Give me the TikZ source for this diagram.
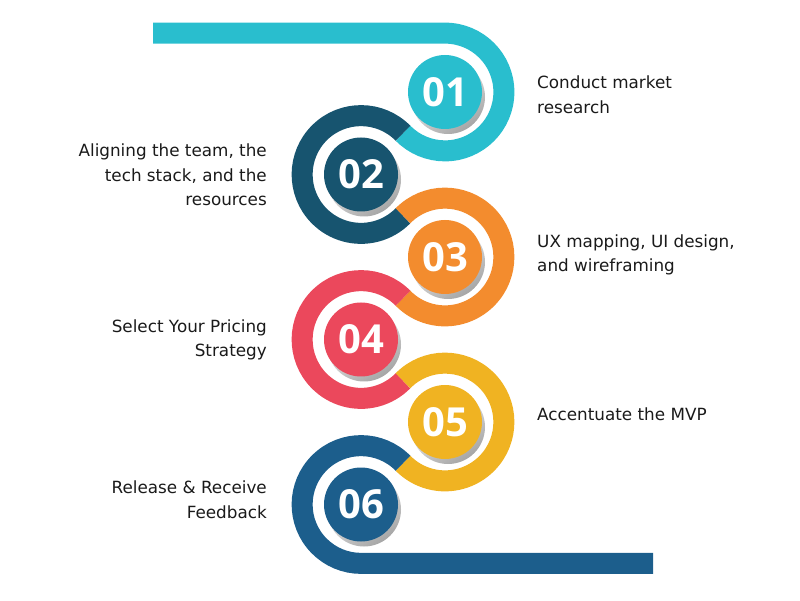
\documentclass[tikz,border=0pt]{standalone}
\usepackage{fontspec}
\usetikzlibrary{calc}
\setmainfont{DejaVu Sans}
\newfontfamily\numfont{Open Sans}
\definecolor{cA}{RGB}{41,190,206}
\definecolor{cB}{RGB}{23,84,111}
\definecolor{cC}{RGB}{243,140,46}
\definecolor{cD}{RGB}{235,72,92}
\definecolor{cE}{RGB}{240,179,34}
\definecolor{cF}{RGB}{28,94,140}
\definecolor{txt}{RGB}{26,26,26}
\begin{document}
\begin{tikzpicture}[x=1pt,y=1pt,
  ringline/.style={line width=21pt, line cap=butt},
  disk/.style={circle, minimum size=74pt, inner sep=0pt, text=white,
    font=\numfont\bfseries\fontsize{40}{40}\selectfont},
  shadowdisk/.style={top color=white, bottom color=black!35, shading angle=35},
  lbl/.style={font=\fontsize{16.8}{24.5}\selectfont, text=txt, inner sep=0pt}]
\useasboundingbox (0,0) rectangle (800,600);
\def\R{58.87}
\coordinate (C1) at (445,508);
\coordinate (C2) at (361,425.5);
\coordinate (C3) at (445,343);
\coordinate (C4) at (361,260.5);
\coordinate (C5) at (445,178);
\coordinate (C6) at (361,95.5);
\coordinate (topL) at (153,566.87);
\coordinate (botR) at (653,36.63);
% rings
\draw[ringline, cA] (topL) -- ($(C1)+(90:\R)$) arc[start angle=90, end angle=-135.52, radius=\R];
\draw[ringline, cB] ($(C2)+(44.48:\R)$) arc[start angle=44.48, end angle=315.52, radius=\R];
\draw[ringline, cC] ($(C3)+(135.52:\R)$) arc[start angle=135.52, end angle=-135.52, radius=\R];
\draw[ringline, cD] ($(C4)+(44.48:\R)$) arc[start angle=44.48, end angle=315.52, radius=\R];
\draw[ringline, cE] ($(C5)+(135.52:\R)$) arc[start angle=135.52, end angle=-135.52, radius=\R];
\draw[ringline, cF] ($(C6)+(44.48:\R)$) arc[start angle=44.48, end angle=270, radius=\R] -- (botR);
% shadows
\foreach \c in {C1,C2,C3,C4,C5,C6}{
  \shade[shadowdisk] ($(\c)+(3,-5)$) circle[radius=37];
}
% disks
\node[disk, fill=cA] (n1) at (C1) {01};
\node[disk, fill=cB] (n2) at (C2) {02};
\node[disk, fill=cC] (n3) at (C3) {03};
\node[disk, fill=cD] (n4) at (C4) {04};
\node[disk, fill=cE] (n5) at (C5) {05};
\node[disk, fill=cF] (n6) at (C6) {06};
% labels (base anchor = baseline of the last line)
\node[lbl, anchor=base west, align=left] (t1) at (537,486.7) {Conduct market\\research};
\node[lbl, anchor=base east, align=right] (t2) at (267,394.3) {Aligning the team, the\\tech stack, and the\\resources};
\node[lbl, anchor=base west, align=left] (t3) at (537,328.3) {UX mapping, UI design,\\and wireframing};
\node[lbl, anchor=base east, align=right] (t4) at (267,243.3) {Select Your Pricing\\Strategy};
\node[lbl, anchor=base west, align=left] (t5) at (537,179.3) {Accentuate the MVP};
\node[lbl, anchor=base east, align=right] (t6) at (267,81.7) {Release \& Receive\\Feedback};
\end{tikzpicture}
\end{document}
